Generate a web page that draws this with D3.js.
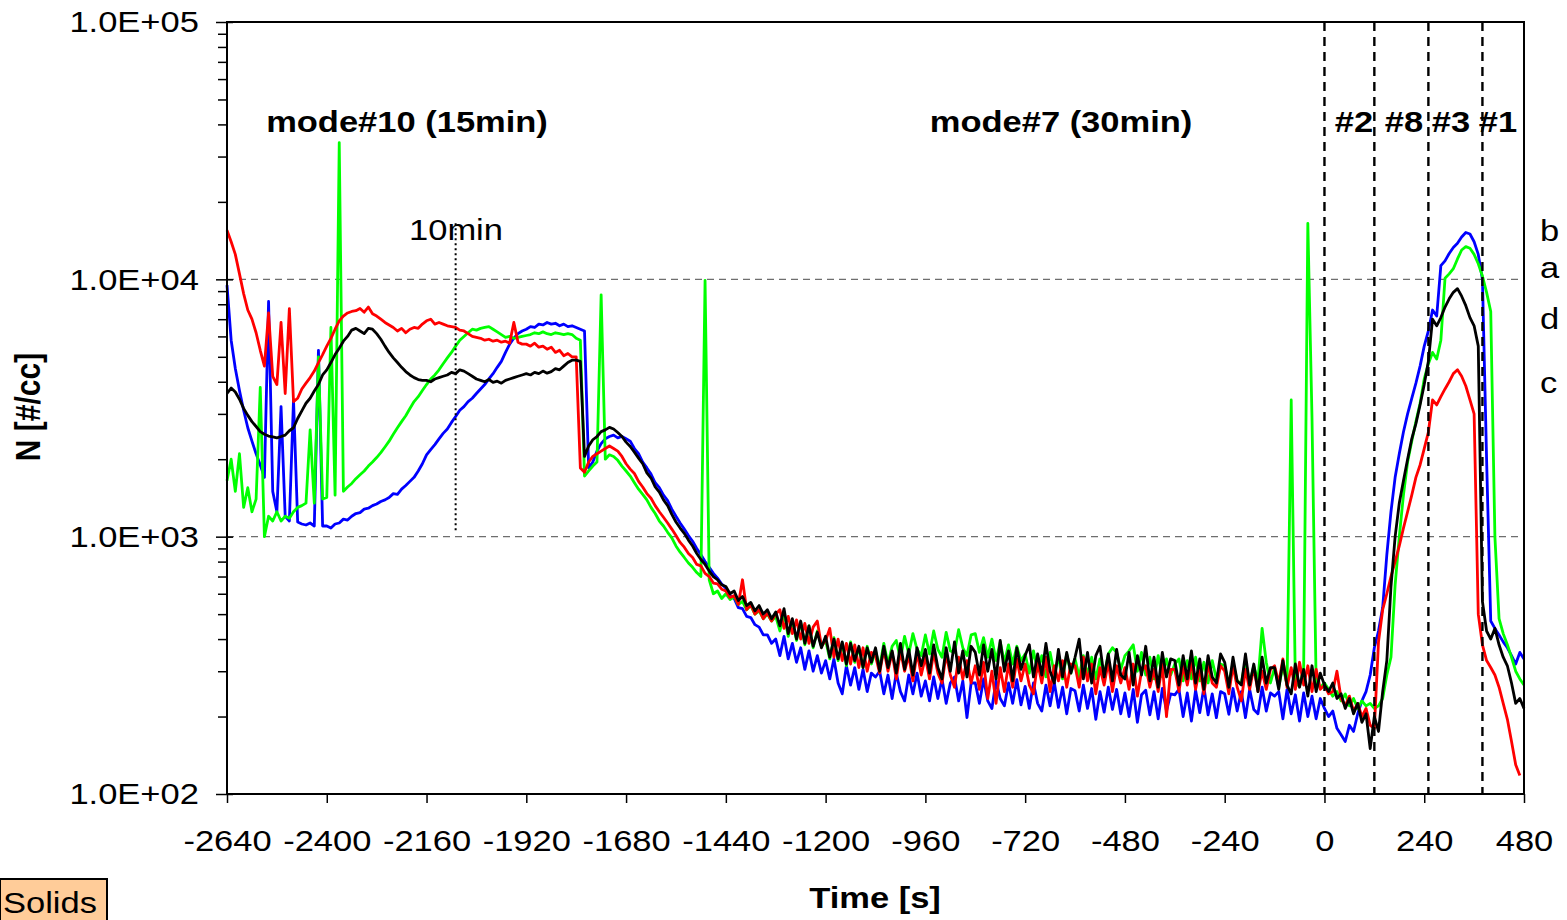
<!DOCTYPE html>
<html>
<head>
<meta charset="utf-8">
<script src="https://cdn.jsdelivr.net/npm/d3@7"></script>
<style>
  html, body { margin: 0; padding: 0; background: #fff; }
  svg { display: block; font-family: "Liberation Sans", Arial, Helvetica, sans-serif; }
</style>
</head>
<body>
<svg id="chart" width="1567" height="920"></svg>
<script>
// Particle number concentration, sampled every 10 s from -2640 s to 480 s
const startTime = -2640;
const sampleStep = 10;

const xTickValues = [-2640, -2400, -2160, -1920, -1680, -1440, -1200, -960, -720, -480, -240, 0, 240, 480];
const yMajorValues = [100, 1000, 10000, 100000];
const yMajorLabels = ["1.0E+02", "1.0E+03", "1.0E+04", "1.0E+05"];
const modeBoundaries = [0, 120, 250, 380];
const tenMinuteMark = -2090;

// series a (green)
const valuesA = [
  1650,2000,1500,2100,1300,1550,1250,1400,3800,1000,1200,1150,
  1250,1150,1200,1180,1250,1300,1320,1350,2600,1350,5000,1400,
  1420,6500,1450,34000,1500,1560,1610,1680,1740,1800,1880,1950,
  2030,2120,2230,2350,2500,2650,2800,2950,3150,3350,3500,3700,
  3900,4100,4250,4450,4700,4950,5200,5500,5800,6000,6200,6400,
  6350,6450,6500,6550,6400,6250,6100,5950,6000,5900,5950,6000,
  6050,6100,6200,6150,6250,6150,6100,6200,6150,6100,6150,6100,
  5900,5800,1720,1800,1880,1950,8700,2000,2080,2050,1980,1880,
  1800,1720,1620,1530,1460,1390,1300,1230,1150,1100,1040,990,
  920,870,830,790,760,725,700,9900,680,600,615,575,
  600,570,585,545,560,520,540,500,515,480,500,470,
  490,430,505,410,470,395,465,380,450,370,430,375,
  395,335,405,330,385,315,390,325,370,310,375,320,
  360,310,385,320,375,395,335,410,350,420,365,345,
  415,350,430,365,340,425,360,355,435,370,345,415,
  420,355,405,340,400,330,390,325,380,320,375,330,
  350,295,360,300,345,285,355,295,340,280,350,295,
  335,285,345,290,340,280,335,290,350,370,355,305,
  345,360,380,300,355,290,340,280,345,285,335,290,
  320,335,275,330,280,340,275,325,270,330,280,320,
  315,265,325,275,270,330,270,315,275,440,325,270,
  310,260,315,265,3400,270,262,310,16500,2900,270,260,
  270,255,240,250,230,245,220,235,215,230,220,225,
  215,220,235,290,340,650,1000,1450,1950,2350,2800,3300,
  4100,4700,5200,4900,5800,10100,10500,11000,12000,13000,13400,13200,
  12500,11500,10300,8900,7500,1000,480,420,380,340,300,280,
  265
];

// series b (blue)
const valuesB = [
  9500,5800,4500,3700,3100,2650,2350,2100,1900,1700,8200,1500,
  1250,3200,1200,1150,3400,1140,1120,1110,1130,1100,5300,1100,
  1100,1080,1120,1130,1170,1160,1200,1230,1240,1280,1290,1320,
  1340,1370,1390,1420,1470,1460,1530,1580,1640,1700,1800,1920,
  2080,2180,2280,2400,2520,2620,2780,2930,3100,3200,3350,3450,
  3600,3750,3900,4100,4300,4550,4800,5200,5600,5900,6150,6300,
  6400,6550,6500,6700,6650,6800,6700,6750,6600,6700,6550,6600,
  6500,6400,6300,1850,1950,2150,2300,2400,2450,2480,2420,2450,
  2400,2350,2200,2100,1950,1850,1750,1620,1550,1450,1380,1280,
  1200,1130,1070,1010,960,900,850,800,760,720,690,655,
  630,590,575,530,525,490,485,455,445,415,415,385,
  400,345,410,335,385,325,370,305,360,300,345,295,
  330,280,335,270,245,315,265,310,255,305,250,295,
  285,300,245,290,235,295,250,230,290,245,295,240,
  275,230,285,235,280,225,270,285,230,275,198,270,
  270,225,280,230,215,275,235,220,270,225,278,222,
  262,215,270,225,210,265,220,272,217,260,205,257,
  252,210,265,215,257,195,250,208,260,213,255,205,
  247,200,255,190,243,253,203,250,196,257,210,245,
  243,255,200,247,192,253,207,260,203,245,198,250,
  245,204,257,210,250,198,255,213,205,260,210,247,
  240,250,196,255,205,243,192,247,200,240,196,235,
  215,200,210,180,170,160,185,175,205,230,250,290,
  370,430,530,850,1250,1700,2100,2550,3000,3450,3950,4600,
  5500,6300,7600,7200,11300,11800,12600,13300,13800,14600,15200,15000,
  14000,12500,10000,2000,470,440,415,390,370,345,320,355,
  335
];

// series c (red); logging stopped before the last sample
const valuesC = [
  15500,14000,12500,10500,8800,7600,7000,6200,5300,4600,7400,4200,
  3900,6800,3600,7700,3350,3450,3750,3950,4150,4400,4750,5100,
  5500,5900,6400,6900,7200,7400,7500,7550,7700,7450,7800,7350,
  7200,7000,6800,6650,6500,6300,6450,6200,6400,6500,6450,6700,
  6900,7000,6700,6800,6700,6600,6550,6500,6350,6300,6150,6000,
  5950,5900,5800,5850,5750,5800,5700,5750,5650,6800,5700,5600,
  5600,5500,5650,5450,5500,5350,5450,5200,5300,5050,5150,5000,
  5000,1850,1780,1950,2050,2100,2150,2200,2250,2200,2150,2050,
  1920,1830,1760,1640,1560,1470,1410,1320,1250,1190,1130,1070,
  1010,950,910,860,830,780,770,720,700,660,655,625,
  615,580,590,545,680,520,545,500,520,480,505,470,
  500,520,440,490,420,475,400,460,385,445,470,375,
  395,440,340,400,330,385,320,380,310,370,300,355,
  345,295,365,300,355,280,360,300,345,275,355,290,
  340,280,355,295,270,350,290,260,340,280,330,270,
  315,255,325,235,300,225,310,250,320,260,335,275,
  320,265,245,325,270,340,250,315,275,330,260,320,
  315,260,340,275,320,245,310,265,325,250,315,270,
  310,255,320,240,300,315,260,305,250,320,200,305,
  305,250,315,265,325,255,310,245,320,270,260,315,
  300,245,315,260,230,305,255,310,250,300,255,305,
  315,270,335,260,310,255,325,265,315,250,305,255,
  265,245,250,300,235,220,240,210,225,200,215,185,
  180,390,520,600,700,800,920,1080,1250,1450,1700,1900,
  2200,2550,3400,3250,3500,3750,4000,4300,4450,4200,3850,3400,
  3000,500,380,330,310,290,260,225,195,160,130,118,
  null
];

// series d (black)
const valuesD = [
  3600,3780,3650,3420,3150,2960,2800,2680,2560,2500,2460,2440,
  2420,2450,2480,2580,2650,2880,3080,3300,3450,3680,3900,4250,
  4450,4750,5100,5400,5750,6000,6350,6450,6300,6150,6450,6400,
  6150,5850,5500,5200,4950,4750,4550,4380,4250,4150,4080,4050,
  4050,4000,4100,4150,4200,4250,4350,4300,4450,4400,4300,4200,
  4100,4050,4000,4080,3980,4020,3950,4050,4100,4150,4200,4250,
  4300,4250,4350,4300,4400,4320,4380,4500,4450,4600,4750,4850,
  4850,4800,2050,2250,2380,2450,2560,2600,2660,2620,2540,2450,
  2330,2240,2130,2020,1920,1770,1690,1560,1490,1390,1320,1220,
  1140,1080,1030,970,920,860,815,780,735,700,680,650,
  640,600,615,565,585,540,555,515,540,500,520,480,
  510,450,525,420,480,400,470,385,450,375,425,370,
  410,340,400,335,390,320,385,330,375,310,370,325,
  370,300,375,310,360,295,385,305,365,290,370,315,
  365,295,380,310,280,370,300,390,295,360,285,375,
  355,290,380,300,365,280,395,300,360,275,370,305,
  345,380,285,350,290,385,300,270,365,285,355,295,
  340,400,280,355,270,345,375,285,350,275,365,290,
  280,355,265,345,290,375,275,340,260,355,285,335,
  330,265,345,280,360,270,335,255,345,285,270,350,
  325,260,340,275,265,350,265,320,250,340,270,310,
  310,255,330,265,245,320,260,305,240,315,250,295,
  265,250,270,235,245,215,235,205,225,190,205,150,
  200,175,250,330,640,1000,1350,1650,2000,2400,2750,3250,
  3900,4800,7000,6600,7100,7800,8400,8900,9200,8600,7900,7100,
  6600,5500,560,430,400,440,380,340,315,270,225,235,
  215
];

const seriesList = [
  { key: "b", color: "#0000FF", values: valuesB },
  { key: "a", color: "#00FF00", values: valuesA },
  { key: "c", color: "#FF0000", values: valuesC },
  { key: "d", color: "#000000", values: valuesD }
];

const plot = { left: 227, right: 1524, top: 22, bottom: 794 };
const stretch = 1.15;

const svg = d3.select("#chart");
const x = d3.scaleLinear().domain([-2640, 480]).range([plot.left, plot.right]);
const y = d3.scaleLog().domain([100, 100000]).range([plot.bottom, plot.top]);

// horizontal dashed gridlines at inner decades
svg.append("g").selectAll("line")
  .data(yMajorValues.slice(1, -1))
  .join("line")
  .attr("x1", plot.left).attr("x2", plot.right)
  .attr("y1", d => y(d)).attr("y2", d => y(d))
  .attr("stroke", "#6e6e6e").attr("stroke-width", 1.3)
  .attr("stroke-dasharray", "7,5");

// data lines
const line = d3.line()
  .defined(d => d.v != null)
  .x(d => x(d.t))
  .y(d => y(d.v))
  .curve(d3.curveLinear);

const lineLayer = svg.append("g");
seriesList.forEach(s => {
  const pts = s.values.map((v, i) => ({ t: startTime + i * sampleStep, v }));
  lineLayer.append("path")
    .datum(pts)
    .attr("d", line)
    .attr("fill", "none")
    .attr("stroke", s.color)
    .attr("stroke-width", 2.8)
    .attr("stroke-linejoin", "round");
});

// mode boundaries
svg.append("g").selectAll("line")
  .data(modeBoundaries)
  .join("line")
  .attr("x1", d => x(d)).attr("x2", d => x(d))
  .attr("y1", plot.top).attr("y2", plot.bottom)
  .attr("stroke", "#000").attr("stroke-width", 2.4)
  .attr("stroke-dasharray", "9,6");

// 10 minute marker
svg.append("line")
  .attr("x1", x(tenMinuteMark)).attr("x2", x(tenMinuteMark))
  .attr("y1", y(16500)).attr("y2", y(1040))
  .attr("stroke", "#000").attr("stroke-width", 2)
  .attr("stroke-dasharray", "2,3");

// plot frame
svg.append("rect")
  .attr("x", plot.left).attr("y", plot.top)
  .attr("width", plot.right - plot.left).attr("height", plot.bottom - plot.top)
  .attr("fill", "none").attr("stroke", "#000").attr("stroke-width", 2);

// y axis: decades labelled, minor ticks in between
const yMinorValues = [];
yMajorValues.slice(0, -1).forEach(d => { for (let k = 2; k <= 9; k++) yMinorValues.push(d * k); });
const yAxis = d3.axisLeft(y)
  .tickValues(yMajorValues.concat(yMinorValues))
  .tickSize(9)
  .tickPadding(15.5)
  .tickFormat(d => { const i = yMajorValues.indexOf(d); return i >= 0 ? yMajorLabels[i] : ""; });
const gy = svg.append("g").attr("transform", `translate(${plot.left},0)`).call(yAxis);
gy.select(".domain").remove();
gy.selectAll(".tick line").attr("stroke", "#000").attr("stroke-width", 1.5);
gy.selectAll(".tick").filter(d => yMajorValues.includes(d)).select("line").attr("x1", 6).attr("x2", -11);
gy.selectAll(".tick text")
  .attr("font-size", 30).attr("font-family", "Liberation Sans, Arial, sans-serif")
  .attr("fill", "#000").attr("dy", "0.33em")
  .attr("transform", `scale(${stretch},1)`);

// x axis
const xAxis = d3.axisBottom(x).tickValues(xTickValues).tickSize(9).tickPadding(27).tickFormat(d => String(d));
const gx = svg.append("g").attr("transform", `translate(0,${plot.bottom})`).call(xAxis);
gx.select(".domain").remove();
gx.selectAll(".tick line").attr("stroke", "#000").attr("stroke-width", 1.5);
gx.selectAll(".tick text")
  .attr("font-size", 30).attr("font-family", "Liberation Sans, Arial, sans-serif")
  .attr("fill", "#000")
  .attr("transform", `scale(${stretch},1)`);

// text helper (horizontally stretched glyphs)
function addText(txt, px, py, opts = {}) {
  const rot = opts.rotate ? ` rotate(${opts.rotate})` : "";
  return svg.append("text")
    .attr("transform", `translate(${px},${py}) scale(${stretch},1)${rot}`)
    .attr("text-anchor", opts.anchor || "middle")
    .attr("font-size", opts.size || 30)
    .attr("font-weight", opts.bold ? "bold" : "normal")
    .attr("fill", "#000")
    .text(txt);
}

// operating modes
addText("mode#10 (15min)", 407, 132, { bold: true });
addText("mode#7 (30min)", 1061, 132, { bold: true });
addText("#2", 1354, 132, { bold: true });
addText("#8", 1404, 132, { bold: true });
addText("#3", 1451, 132, { bold: true });
addText("#1", 1498, 132, { bold: true });
addText("10min", 456, 240);

// series labels on the right
const seriesLabels = [["b", 241], ["a", 278], ["d", 329], ["c", 393]];
seriesLabels.forEach(([k, py]) => addText(k, 1540, py, { anchor: "start" }));

// axis titles
addText("Time [s]", 875, 908, { bold: true });
addText("N [#/cc]", 40, 407, { bold: true, rotate: -90 });

// sample type tag
svg.append("rect")
  .attr("x", 0).attr("y", 879).attr("width", 107).attr("height", 43)
  .attr("fill", "#FFCC99").attr("stroke", "#000").attr("stroke-width", 2);
addText("Solids", 3, 913, { anchor: "start" });
</script>
</body>
</html>
